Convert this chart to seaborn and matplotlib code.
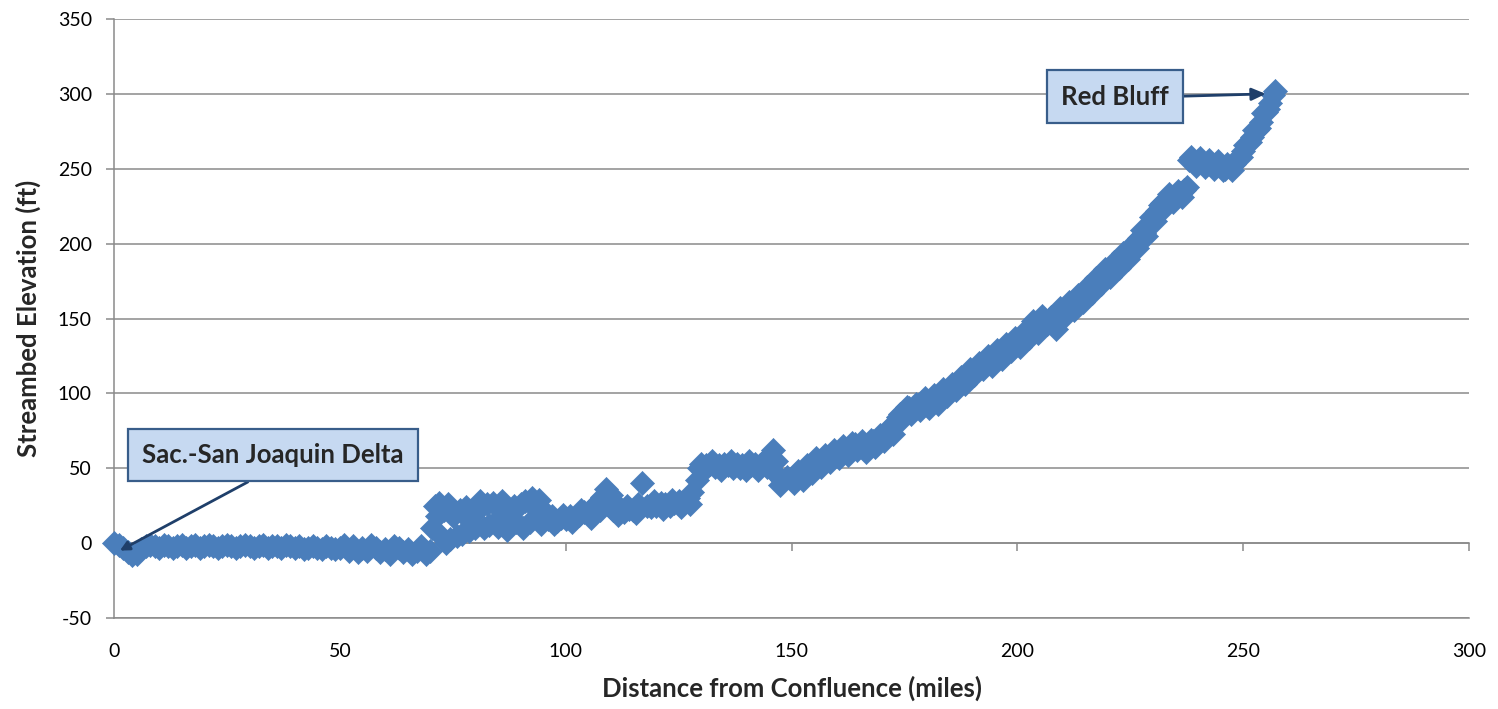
import matplotlib
matplotlib.use("Agg")
import matplotlib.pyplot as plt
import pandas as pd
import seaborn as sns

# ---------------- data ----------------
delta_miles = [0, 1, 2, 3, 4, 5, 6, 7, 8, 9, 10, 11, 12, 13, 14, 15, 16, 17, 18, 19,
               20, 21, 22, 23, 24, 25, 26, 27, 28, 29, 30, 31, 32, 33, 34, 35, 36, 37, 38, 39,
               40, 41, 42, 43, 44, 45, 46, 47, 48, 49, 50, 51, 52, 53, 54, 55, 56, 57, 58, 59,
               60, 61, 62, 63, 64, 65, 66, 67, 68, 69, 70]
delta_elev = [0, -1, -3, -6, -8, -7, -4, -2, -1, -2, -3, -1, -2, -3, -2, -1, -3, -2, -1, -3,
              -2, -1, -2, -3, -2, -1, -2, -3, -2, -1, -2, -3, -2, -1, -3, -2, -2, -3, -1, -2,
              -3, -2, -4, -3, -2, -3, -4, -2, -3, -4, -3, -1, -5, -2, -6, -3, -5, -1, -3, -6,
              -4, -7, -2, -3, -6, -4, -7, -5, -2, -7, -5]

middle_miles = [70.5, 71, 71.5, 72, 72.5, 73, 73.5, 74, 74.5, 75, 76, 76.5, 77, 78, 78.5, 79,
                80, 80.5, 81, 82, 82.5, 83, 84, 84.5, 85, 86, 86.5, 87, 88, 88.5, 89, 90,
                90.5, 91, 92, 92.5, 93, 94, 94.5, 95, 96, 97, 98, 99, 100, 101, 102, 103,
                104, 105, 106, 107, 108, 109, 110, 110.5, 111, 112, 113, 114, 115, 116, 117,
                118, 119, 120, 121, 122, 123, 124, 125, 126, 127, 128, 129, 129.5, 130, 131,
                132, 133, 134, 135, 136, 137, 138, 139, 140, 141, 142, 143, 144, 145, 146,
                146.5, 147, 147.5, 148, 149, 150, 151, 152, 153, 154, 155, 156, 157, 158,
                159, 160, 161, 162, 163, 164, 165, 166, 167, 168, 169, 170, 171, 172]
middle_elev = [10, 25, 18, 27, 5, 22, 0, 26, 3, 18, 5, 22, 6, 24, 8, 14,
               10, 22, 28, 10, 26, 12, 27, 15, 11, 28, 22, 9, 12, 25, 14, 26,
               10, 28, 14, 30, 24, 29, 13, 22, 16, 18, 15, 17, 16, 18, 17, 19,
               21, 20, 24, 27, 31, 36, 32, 22, 27, 22, 21, 23, 22, 26, 40,
               25, 24, 25, 27, 26, 25, 27, 28, 26, 30, 34, 42, 50, 53, 52,
               53, 51, 52, 53, 52, 50, 53, 52, 49, 52, 53, 52, 55, 58, 62,
               55, 45, 39, 42, 44, 43, 46, 45, 48, 50, 52, 55, 54, 57,
               58, 60, 62, 61, 64, 66, 65, 63, 66, 68, 66, 71, 73, 76]
middle_extra_miles = [97.5, 99.5, 101.5, 103.5, 105.5, 107.5, 111.5, 113.5, 115.5, 119.5,
                      121.5, 123.5, 125.5, 127.5, 130.5, 132.5, 134.5, 136.5, 138.5, 140.5,
                      142.5, 144.5, 150.5, 151.5, 152.5, 153.5, 154.5, 155.5, 156.5, 157.5,
                      158.5, 159.5, 160.5, 161.5, 162.5, 163.5, 164.5, 165.5, 166.5, 167.5,
                      168.5, 169.5, 170.5, 171.5, 172.5]
middle_extra_elev = [13, 19, 14, 22, 17, 22, 19, 25, 20, 28,
                     23, 29, 24, 26, 48, 55, 49, 55, 50, 55,
                     49, 51, 40, 48, 42, 52, 47, 57, 51, 59,
                     54, 62, 57, 65, 59, 67, 62, 68, 61, 69,
                     64, 72, 68, 77, 73]

upper_miles = [173, 174, 175, 176, 177, 178, 179, 180, 181, 182, 183, 184, 185, 186, 187,
               188, 189, 190, 191, 192, 193, 194, 195, 196, 197, 198, 199, 200, 201, 202,
               203, 204, 205, 206, 207, 208, 209, 210, 211, 212, 213, 214, 215, 216, 217,
               218, 219, 220, 221, 222, 223, 224, 225, 226, 227, 228, 229, 230, 231, 232,
               233, 234, 235, 236, 237, 237.5]
upper_elev = [80, 86, 88, 90, 89, 92, 94, 92, 95, 97, 96, 100, 102, 104, 107,
              109, 112, 115, 116, 118, 121, 120, 124, 127, 126, 131, 133, 134, 137, 140,
              144, 142, 147, 150, 148, 146, 153, 155, 157, 159, 162, 164, 167, 170, 173,
              176, 179, 181, 184, 187, 190, 193, 196, 200, 204, 207, 212, 218, 222, 227,
              229, 231, 232, 234, 236, 238]
upper_extra_miles = [173.5, 174.5, 175.5, 176.5, 177.5, 178.5, 179.5, 180.5, 181.5, 182.5,
                     183.5, 184.5, 185.5, 186.5, 187.5, 188.5, 189.5, 190.5, 191.5, 192.5,
                     193.5, 194.5, 195.5, 196.5, 197.5, 198.5, 199.5, 200.5, 201.5, 202.5,
                     203.5, 204.5, 205.5, 206.5, 207.5, 208.5, 209.5, 210.5, 211.5, 212.5,
                     213.5, 214.5, 215.5, 216.5, 217.5, 218.5, 219.5, 220.5, 221.5, 222.5,
                     223.5, 224.5, 225.5, 226.5, 227.5, 228.5, 229.5, 230.5, 231.5, 232.5,
                     233.5, 234.5, 235.5, 236.5]
upper_extra_elev = [84, 83, 91, 86, 93, 89, 97, 90, 99, 93,
                    103, 98, 106, 102, 111, 106, 116, 112, 120, 116,
                    125, 118, 129, 123, 133, 128, 137, 131, 141, 137,
                    148, 140, 152, 146, 151, 143, 157, 152, 161, 156,
                    166, 161, 171, 167, 177, 173, 183, 178, 188, 184,
                    194, 190, 200, 197, 209, 205, 218, 215, 226, 224,
                    233, 228, 235, 231]

bluff_miles = [238, 239, 240, 241, 242, 243, 244, 245, 246, 247, 248, 249, 250, 251, 252,
               253, 254, 255, 256, 257]
bluff_elev = [256, 255, 255, 254, 254, 253, 253, 252, 250, 251, 253, 257, 262, 267, 271,
              276, 281, 288, 294, 302]
bluff_extra_miles = [238.5, 239.5, 240.5, 241.5, 242.5, 243.5, 244.5, 245.5, 246.5, 247.5,
                     248.5, 249.5, 250.5, 251.5, 252.5, 253.5, 254.5, 255.5, 256.5]
bluff_extra_elev = [258, 252, 257, 251, 256, 250, 255, 249, 253, 249,
                    256, 258, 266, 268, 276, 277, 287, 290, 299]

x_ticks = [0, 50, 100, 150, 200, 250, 300]
y_ticks = [-50, 0, 50, 100, 150, 200, 250, 300, 350]
x_label = "Distance from Confluence (miles)"
y_label = "Streambed Elevation (ft)"
delta_label = "Sac.-San Joaquin Delta"
bluff_label = "Red Bluff"

# ---------------- style ----------------
BLUE = "#4A7EBB"
GRID = "#8A8A8A"
BOX_FILL = "#C6D9F1"
BOX_EDGE = "#385D8A"
ARROW = "#1F3F6A"

sns.set_theme(style="white")
plt.rcParams["font.family"] = ["Lato", "DejaVu Sans"]
plt.rcParams["axes.unicode_minus"] = False

df = pd.DataFrame({
    "miles": (delta_miles + middle_miles + middle_extra_miles + upper_miles
              + upper_extra_miles + bluff_miles + bluff_extra_miles),
    "elev": (delta_elev + middle_elev + middle_extra_elev + upper_elev
             + upper_extra_elev + bluff_elev + bluff_extra_elev),
})

fig = plt.figure(figsize=(14.98, 7.09), dpi=100)
ax = fig.add_axes([114 / 1498, 1 - 618 / 709, (1469 - 114) / 1498, (618 - 19) / 709])

sns.scatterplot(data=df, x="miles", y="elev", marker="D", s=150, color=BLUE,
                edgecolor=BLUE, linewidth=0.5, ax=ax, zorder=3, clip_on=False,
                legend=False)

ax.set_xlim(x_ticks[0], x_ticks[-1])
ax.set_ylim(y_ticks[0], y_ticks[-1])
ax.set_xticks(x_ticks)
ax.set_yticks(y_ticks)

ax.yaxis.grid(True, color=GRID, linewidth=1.1)
ax.xaxis.grid(False)
for side in ["top", "right"]:
    ax.spines[side].set_visible(False)
for side in ["left", "bottom"]:
    ax.spines[side].set_color(GRID)
    ax.spines[side].set_linewidth(1.1)

ax.tick_params(axis="x", length=0, pad=18, labelsize=14, labelcolor="black")
ax.tick_params(axis="y", direction="out", length=6, width=1.1, color=GRID,
               pad=10, labelsize=14, labelcolor="black", left=True)

# horizontal axis line crossing at y = 0 with its tick marks
zero_pos = (0 - y_ticks[0]) / (y_ticks[-1] - y_ticks[0])
sec = ax.secondary_xaxis(zero_pos)
sec.set_xticks(x_ticks)
sec.set_xticklabels([])
sec.tick_params(axis="x", direction="out", length=6, width=1.1, color=GRID)
sec.spines["bottom"].set_color(GRID)
sec.spines["bottom"].set_linewidth(1.1)

ax.set_xlabel(x_label, fontsize=18.5, fontweight="bold", labelpad=11)
ax.set_ylabel(y_label, fontsize=18.5, fontweight="bold", labelpad=12)

box = dict(boxstyle="square,pad=0.55", fc=BOX_FILL, ec=BOX_EDGE, lw=1.6)

ax.annotate(delta_label, xy=(1.3, -5), xytext=(35.2, 58.8), textcoords="data",
            ha="center", va="center", fontsize=18.5, fontweight="bold", bbox=box,
            zorder=5,
            arrowprops=dict(arrowstyle="-|>,head_length=0.3,head_width=0.15",
                            color=ARROW, lw=2.0, relpos=(0.51, 0.0),
                            shrinkA=0, shrinkB=0))

ax.annotate(bluff_label, xy=(bluff_miles[-1] - 2, bluff_elev[-1] - 2),
            xytext=(221.6, 298.2), textcoords="data",
            ha="center", va="center", fontsize=18.5, fontweight="bold", bbox=box,
            zorder=5,
            arrowprops=dict(arrowstyle="-|>,head_length=0.45,head_width=0.2",
                            color=ARROW, lw=2.0, relpos=(1.0, 0.5),
                            shrinkA=0, shrinkB=0))

fig.savefig("out.png", dpi=100)
